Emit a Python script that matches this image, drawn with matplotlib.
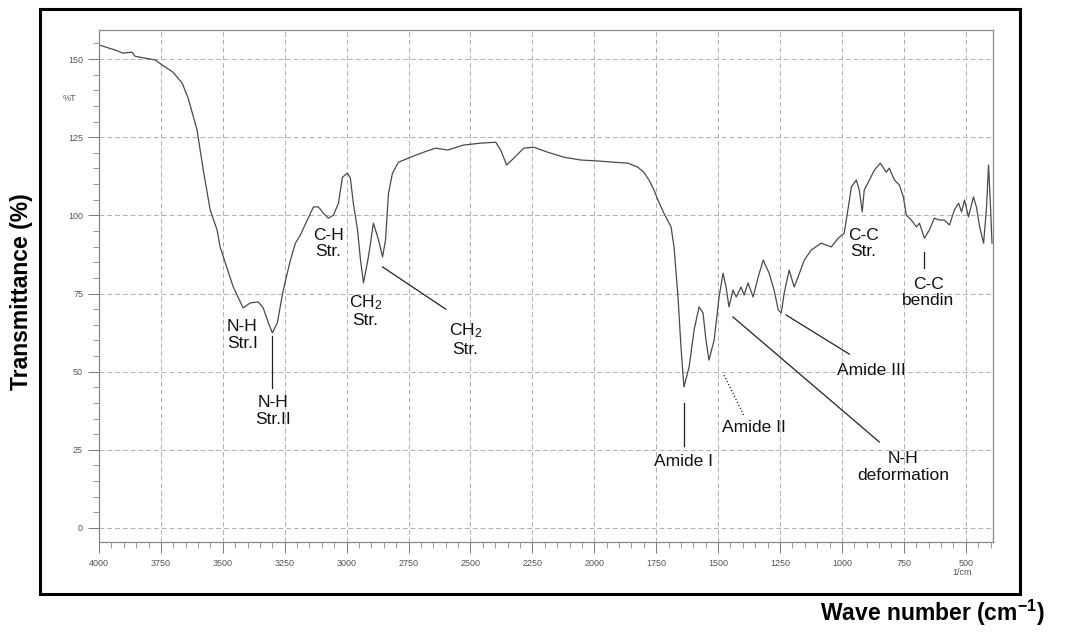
import matplotlib
matplotlib.use("Agg")
import matplotlib.pyplot as plt
from matplotlib.patches import Rectangle
from matplotlib.ticker import MultipleLocator, FixedLocator

plt.rcParams['font.family'] = ['Liberation Sans', 'DejaVu Sans']
plt.rcParams['mathtext.fontset'] = 'custom'
plt.rcParams['mathtext.rm'] = 'Liberation Sans'
plt.rcParams['mathtext.bf'] = 'Liberation Sans:bold'
plt.rcParams['mathtext.default'] = 'regular'

# ---- data ----
wavenumber = [4000, 3935, 3903, 3867, 3854, 3773, 3745, 3701, 3664, 3640, 3604, 3579,
              3551, 3523, 3511, 3458, 3418, 3389, 3357, 3337, 3316, 3300, 3280, 3256,
              3227, 3207, 3187, 3159, 3134, 3114, 3094, 3074, 3053, 3033, 3017, 2997,
              2985, 2973, 2956, 2944, 2932, 2912, 2892, 2871, 2855, 2843, 2831, 2815,
              2791, 2742, 2689, 2641, 2592, 2528, 2459, 2398, 2378, 2354, 2325, 2285,
              2244, 2188, 2123, 2054, 1986, 1921, 1864, 1824, 1800, 1779, 1759, 1743,
              1719, 1690, 1678, 1662, 1650, 1638, 1617, 1597, 1577, 1561, 1549, 1537,
              1516, 1496, 1480, 1468, 1456, 1440, 1427, 1407, 1395, 1379, 1359, 1338,
              1318, 1294, 1274, 1257, 1245, 1233, 1213, 1193, 1177, 1152, 1124, 1084,
              1043, 1015, 991, 974, 962, 942, 930, 918, 910, 889, 869, 845, 821, 809,
              788, 768, 752, 740, 720, 699, 687, 667, 647, 627, 606, 586, 566, 546,
              529, 517, 505, 489, 469, 457, 444, 428, 416, 408, 400, 394]
transmittance = [154.5, 152.9, 151.9, 152.2, 150.9, 149.7, 148.1, 145.8, 142.3, 137.5,
                 127.3, 114.5, 101.7, 95.3, 89.9, 77.1, 70.4, 72.0, 72.3, 70.4, 65.6,
                 62.4, 65.6, 76.1, 85.7, 91.1, 93.7, 98.5, 102.7, 102.7, 100.7, 99.1,
                 100.1, 103.9, 112.2, 113.5, 111.9, 103.9, 95.3, 85.7, 78.4, 86.7,
                 97.5, 92.1, 86.7, 92.1, 107.1, 113.5, 117.0, 118.6, 120.2, 121.5,
                 120.9, 122.5, 123.1, 123.4, 120.9, 116.1, 118.3, 121.5, 121.8, 120.2,
                 118.6, 117.7, 117.4, 117.0, 116.7, 115.4, 113.8, 111.3, 108.1, 104.9,
                 100.7, 96.3, 89.9, 73.9, 57.9, 45.1, 51.5, 63.3, 70.7, 68.8, 60.1,
                 53.7, 60.1, 73.9, 81.5, 77.1, 70.7, 76.1, 73.9, 77.1, 74.5, 78.4,
                 73.9, 80.3, 85.7, 81.5, 76.1, 69.7, 68.8, 75.2, 82.5, 77.1, 80.3,
                 85.7, 88.9, 91.1, 89.9, 92.7, 94.3, 102.7, 109.1, 111.3, 108.1,
                 101.1, 108.1, 111.3, 114.5, 116.7, 113.8, 115.1, 111.3, 109.7, 105.9,
                 100.1, 98.5, 96.3, 97.5, 92.7, 95.3, 99.1, 98.5, 98.5, 96.9, 101.7,
                 103.9, 101.1, 104.9, 99.5, 105.9, 102.7, 96.3, 91.1, 102.7, 116.1,
                 102.7, 91.1]

x_ticks = [4000, 3750, 3500, 3250, 3000, 2750, 2500, 2250, 2000, 1750, 1500, 1250, 1000, 750, 500]
x_tick_labels = ['4000', '3750', '3500', '3250', '3000', '2750', '2500', '2250', '2000',
                 '1750', '1500', '1250', '1000', '750', '500']
y_ticks = [0, 25, 50, 75, 100, 125, 150]
y_tick_labels = ['0', '25', '50', '75', '100', '125', '150']

# annotations: (text, text_x, text_y, line_start, line_end, line_style)
annotations = [
    ("N-H\nStr.I", 3422, 61.7, None, None, None),
    ("N-H\nStr.II", 3296, 37.4, (3300, 61.4), (3300, 44.8), '-'),
    ("C-H\nStr.", 3074, 91.1, None, None, None),
    ("CH$_2$\nStr.", 2924, 69.4, None, None, None),
    ("CH$_2$\nStr.", 2520, 60.4, (2855, 83.5), (2600, 70.0), '-'),
    ("Amide I", 1638, 21.1, (1638, 40.0), (1638, 26.2), '-'),
    ("Amide II", 1355, 32.0, (1476, 48.9), (1395, 35.8), ':'),
    ("N-H\ndeformation", 752, 19.5, (1440, 67.5), (849, 27.5), '-'),
    ("Amide III", 881, 50.5, (1225, 68.1), (970, 55.6), '-'),
    ("C-C\nStr.", 914, 91.1, None, None, None),
    ("C-C\nbendin", 651, 75.2, (667, 88.3), (667, 83.1), '-'),
]

W, H = 1074, 632
fig = plt.figure(figsize=(W / 100, H / 100), dpi=100)
ax = fig.add_axes([99 / W, 1 - 542 / H, (993 - 99) / W, (542 - 30) / H])

ax.plot(wavenumber, transmittance, color='#4a4a4a', lw=0.9)

ax.set_xlim(4000, 390)
ax.set_ylim(-4.5, 159.3)

ax.xaxis.set_major_locator(FixedLocator(x_ticks))
ax.set_xticklabels(x_tick_labels)
ax.xaxis.set_minor_locator(MultipleLocator(50))
ax.yaxis.set_major_locator(FixedLocator(y_ticks))
ax.set_yticklabels(y_tick_labels)
ax.yaxis.set_minor_locator(MultipleLocator(5))

ax.tick_params(axis='both', which='major', labelsize=6.5, labelcolor='#555555',
               color='#777777', length=8, width=0.7, direction='out')
ax.tick_params(axis='both', which='minor', color='#888888', length=4, width=0.6,
               direction='out')
ax.tick_params(axis='x', pad=4)

ax.grid(True, which='major', color='#b0b0b0', lw=0.7, ls=(0, (5, 3)))
for s in ax.spines.values():
    s.set_color('#888888')
    s.set_linewidth(0.9)

ax.text(-0.025, (137.5 + 4.5) / (159.3 + 4.5), '%T', transform=ax.transAxes,
        fontsize=6.5, color='#555555', ha='right', va='center')
ax.text(0.965, -0.06, '1/cm', transform=ax.transAxes, fontsize=6.5,
        color='#555555', ha='center', va='center')

for text, tx, ty, p0, p1, ls in annotations:
    ax.text(tx, ty, text, ha='center', va='center', fontsize=12.5,
            color='#111111', linespacing=1.1)
    if p0 is not None:
        ax.plot([p0[0], p1[0]], [p0[1], p1[1]], color='#222222', lw=0.9, ls=ls)

# outer frame
fig.patches.append(Rectangle((40 / W, 1 - 594 / H), (1020 - 40) / W, (594 - 9) / H,
                             transform=fig.transFigure, fill=False,
                             edgecolor='black', lw=2.2))

fig.text(22 / W, 1 - 292 / H, 'Transmittance (%)', rotation=90, ha='center',
         va='center', fontsize=16.5, fontweight='bold')
fig.text(1045 / W, 1 - 613 / H, 'Wave number (cm$^{-1}$)', ha='right',
         va='center', fontsize=16.5, fontweight='bold')

fig.savefig('out.png', dpi=100)
